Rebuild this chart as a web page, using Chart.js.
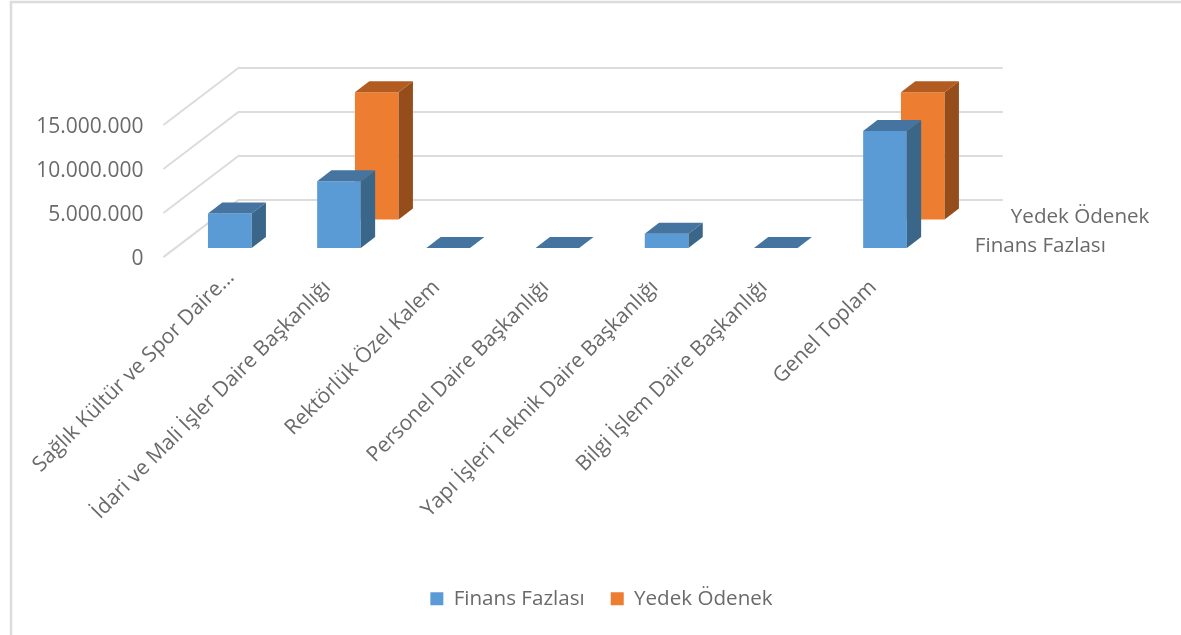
<!DOCTYPE html>
<html lang="tr">
<head>
  <meta charset="UTF-8" />
  <title>Finans Fazlası ve Yedek Ödenek</title>
  <script src="https://cdn.jsdelivr.net/npm/chart.js"></script>
  <style>
    html, body { margin: 0; padding: 0; background: #fff; }
    canvas { display: block; }
  </style>
</head>
<body>
  <canvas id="chart" width="1181" height="635"></canvas>

  <script>
    const categories = [
      'Sağlık Kültür ve Spor Daire...',
      'İdari ve Mali İşler Daire Başkanlığı',
      'Rektörlük Özel Kalem',
      'Personel Daire Başkanlığı',
      'Yapı İşleri Teknik Daire Başkanlığı',
      'Bilgi İşlem Daire Başkanlığı',
      'Genel Toplam'
    ];
    const finansFazlasi = [3930000, 7600000, 0, 0, 1620000, 0, 13300000];
    const yedekOdenek = [0, 14450000, 0, 0, 0, 0, 14450000];
    const yTickLabels = ['0', '5.000.000', '10.000.000', '15.000.000'];

    const textColor = '#6a6a6a';
    const gridColor = '#dcdcdc';

    // fake 3D: how far each plane sits behind the front of the floor
    const wallDepth = { dx: 75, dy: -57 };
    const barDepth = { dx: 14.3, dy: -11 };
    const planes = [
      { dx: 11.8, dy: -9, side: '#3a6689', top: '#44749f', labelX: 47, labelY: -11 },
      { dx: 49.6, dy: -37.7, side: '#954d1c', top: '#b25c22', labelX: 83, labelY: -40 }
    ];

    const fake3d = {
      id: 'fake3d',
      afterLayout(chart) {
        // the truncated first label sits further along its slant than the others
        const first = chart.scales.x.getLabelItems()[0];
        first.options.translation[0] += 13;
        first.options.translation[1] -= 10;
      },
      beforeDraw(chart) {
        const ctx = chart.ctx;
        ctx.save();
        ctx.strokeStyle = gridColor;
        ctx.lineWidth = 2.5;
        ctx.beginPath();
        ctx.moveTo(11, 635);
        ctx.lineTo(11, 2);
        ctx.lineTo(1181, 2);
        ctx.stroke();
        ctx.restore();
      },
      beforeDatasetsDraw(chart) {
        const ctx = chart.ctx;
        const { left, right } = chart.chartArea;
        const y = chart.scales.y;
        ctx.save();
        ctx.strokeStyle = gridColor;
        ctx.lineWidth = 2;
        y.ticks.forEach(t => {
          const py = y.getPixelForValue(t.value);
          ctx.beginPath();
          ctx.moveTo(left, py);
          ctx.lineTo(left + wallDepth.dx, py + wallDepth.dy);
          ctx.lineTo(right + wallDepth.dx, py + wallDepth.dy);
          ctx.stroke();
        });
        ctx.restore();
      },
      beforeDatasetDraw(chart, args) {
        const p = planes[args.index];
        chart.ctx.save();
        chart.ctx.translate(p.dx, p.dy);
      },
      afterDatasetDraw(chart, args) {
        const ctx = chart.ctx;
        const p = planes[args.index];
        const data = chart.data.datasets[args.index].data;
        args.meta.data.forEach((bar, i) => {
          // series without a value in this category has no block at all
          if (args.index === 1 && !data[i]) return;
          const l = bar.x - bar.width / 2;
          const r = bar.x + bar.width / 2;
          ctx.fillStyle = p.side;
          ctx.beginPath();
          ctx.moveTo(r, bar.y);
          ctx.lineTo(r + barDepth.dx, bar.y + barDepth.dy);
          ctx.lineTo(r + barDepth.dx, bar.base + barDepth.dy);
          ctx.lineTo(r, bar.base);
          ctx.fill();
          ctx.fillStyle = p.top;
          ctx.beginPath();
          ctx.moveTo(l, bar.y);
          ctx.lineTo(l + barDepth.dx, bar.y + barDepth.dy);
          ctx.lineTo(r + barDepth.dx, bar.y + barDepth.dy);
          ctx.lineTo(r, bar.y);
          ctx.fill();
        });
        ctx.restore();
      },
      afterDraw(chart) {
        const ctx = chart.ctx;
        const y0 = chart.scales.y.getPixelForValue(0);
        ctx.save();
        ctx.fillStyle = textColor;
        ctx.font = '20.6px "Open Sans"';
        ctx.textAlign = 'left';
        ctx.textBaseline = 'middle';
        chart.data.datasets.forEach((ds, i) => {
          ctx.fillText(ds.label, chart.chartArea.right + planes[i].labelX, y0 + planes[i].labelY);
        });
        ctx.restore();
      }
    };

    Chart.defaults.font.family = '"Open Sans", sans-serif';
    Chart.defaults.color = textColor;

    new Chart(document.getElementById('chart'), {
      type: 'bar',
      plugins: [fake3d],
      data: {
        labels: categories,
        datasets: [
          { label: 'Finans Fazlası', data: finansFazlasi, backgroundColor: '#5b9bd5', clip: false },
          { label: 'Yedek Ödenek', data: yedekOdenek, backgroundColor: '#ed7d31', clip: false }
        ]
      },
      options: {
        responsive: false,
        animation: false,
        layout: { padding: { left: 22, right: 0, top: 125, bottom: 16 } },
        datasets: { bar: { grouped: false, barPercentage: 0.4, categoryPercentage: 1, borderWidth: 0 } },
        plugins: {
          tooltip: { enabled: false },
          legend: {
            position: 'bottom',
            onClick: null,
            labels: { font: { size: 20.6 }, boxWidth: 13, boxHeight: 13, padding: 26 }
          }
        },
        scales: {
          x: {
            grid: { display: false },
            border: { display: false },
            ticks: { autoSkip: false, minRotation: 45, maxRotation: 45, font: { size: 21 }, padding: 10 },
            afterFit(s) {
              s.height = 305.3;
              s.paddingLeft = s.paddingRight = s.paddingTop = s.paddingBottom = 0;
            }
          },
          y: {
            min: 0,
            max: 15000000,
            grid: { display: false },
            border: { display: false },
            ticks: {
              stepSize: 5000000,
              font: { size: 21 },
              padding: 12,
              labelOffset: 2,
              callback: (v, i) => yTickLabels[i]
            },
            afterFit(s) {
              s.width = 141.4;
              s.paddingLeft = s.paddingRight = s.paddingTop = s.paddingBottom = 0;
            }
          },
          // empty right axis, reserves the room the 3D depth takes
          yRight: {
            position: 'right',
            grid: { display: false },
            border: { display: false },
            ticks: { display: false },
            afterFit(s) {
              s.width = 253.2;
              s.paddingTop = s.paddingBottom = 0;
            }
          }
        }
      }
    });
  </script>
</body>
</html>
